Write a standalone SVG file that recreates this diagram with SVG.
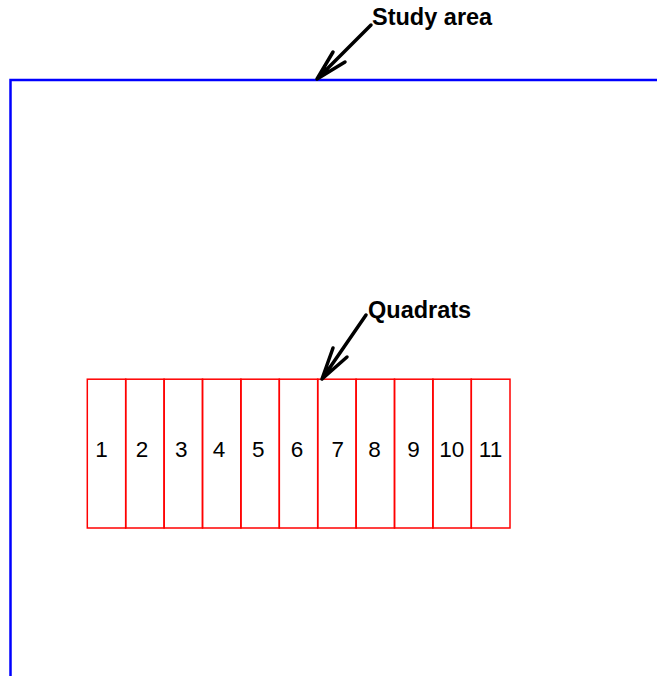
<svg xmlns="http://www.w3.org/2000/svg" width="657" height="676" viewBox="0 0 657 676">
<style>
.area{fill:none;stroke:#0000ff;stroke-width:2.5}
.q{fill:none;stroke:#ff0000;stroke-width:1.5}
.num{font-family:"Liberation Sans",Arial,sans-serif;font-size:22.5px;fill:#000;text-anchor:middle}
.lbl{font-family:"Liberation Sans",Arial,sans-serif;font-size:23.5px;font-weight:bold;fill:#000}
.arr{fill:none;stroke:#000;stroke-width:3.5;stroke-linecap:round;stroke-linejoin:round}
</style>
<rect width="657" height="676" fill="#fff"/>
<g id="study-area">
<path class="area" d="M10.5,676 V80 H657"/>
<text class="lbl" x="372" y="25">Study area</text>
</g>
<g id="quadrats">
<text class="lbl" x="368" y="318">Quadrats</text>
<g id="q1"><rect class="q" x="87.3" y="379.2" width="38.4" height="148.8"/><text class="num" x="101.5" y="457">1</text></g>
<g id="q2"><rect class="q" x="125.7" y="379.2" width="38.4" height="148.8"/><text class="num" x="142" y="457">2</text></g>
<g id="q3"><rect class="q" x="164.1" y="379.2" width="38.4" height="148.8"/><text class="num" x="181.2" y="457">3</text></g>
<g id="q4"><rect class="q" x="202.5" y="379.2" width="38.4" height="148.8"/><text class="num" x="219" y="457">4</text></g>
<g id="q5"><rect class="q" x="240.9" y="379.2" width="38.4" height="148.8"/><text class="num" x="258.3" y="457">5</text></g>
<g id="q6"><rect class="q" x="279.3" y="379.2" width="38.4" height="148.8"/><text class="num" x="297" y="457">6</text></g>
<g id="q7"><rect class="q" x="317.7" y="379.2" width="38.4" height="148.8"/><text class="num" x="337.8" y="457">7</text></g>
<g id="q8"><rect class="q" x="356.1" y="379.2" width="38.4" height="148.8"/><text class="num" x="374.5" y="457">8</text></g>
<g id="q9"><rect class="q" x="394.5" y="379.2" width="38.4" height="148.8"/><text class="num" x="413.5" y="457">9</text></g>
<g id="q10"><rect class="q" x="432.9" y="379.2" width="38.4" height="148.8"/><text class="num" x="451.7" y="457">10</text></g>
<g id="q11"><rect class="q" x="471.3" y="379.2" width="38.7" height="148.8"/><text class="num" x="490.5" y="457">11</text></g>
</g>
<g id="connectors">
<path class="arr" d="M371,25 L317,79 M333,52 L317,79 L345,62"/>
<path class="arr" d="M366,315 L322,379 M333,348 L322,379 L347,357"/>
</g>
</svg>
